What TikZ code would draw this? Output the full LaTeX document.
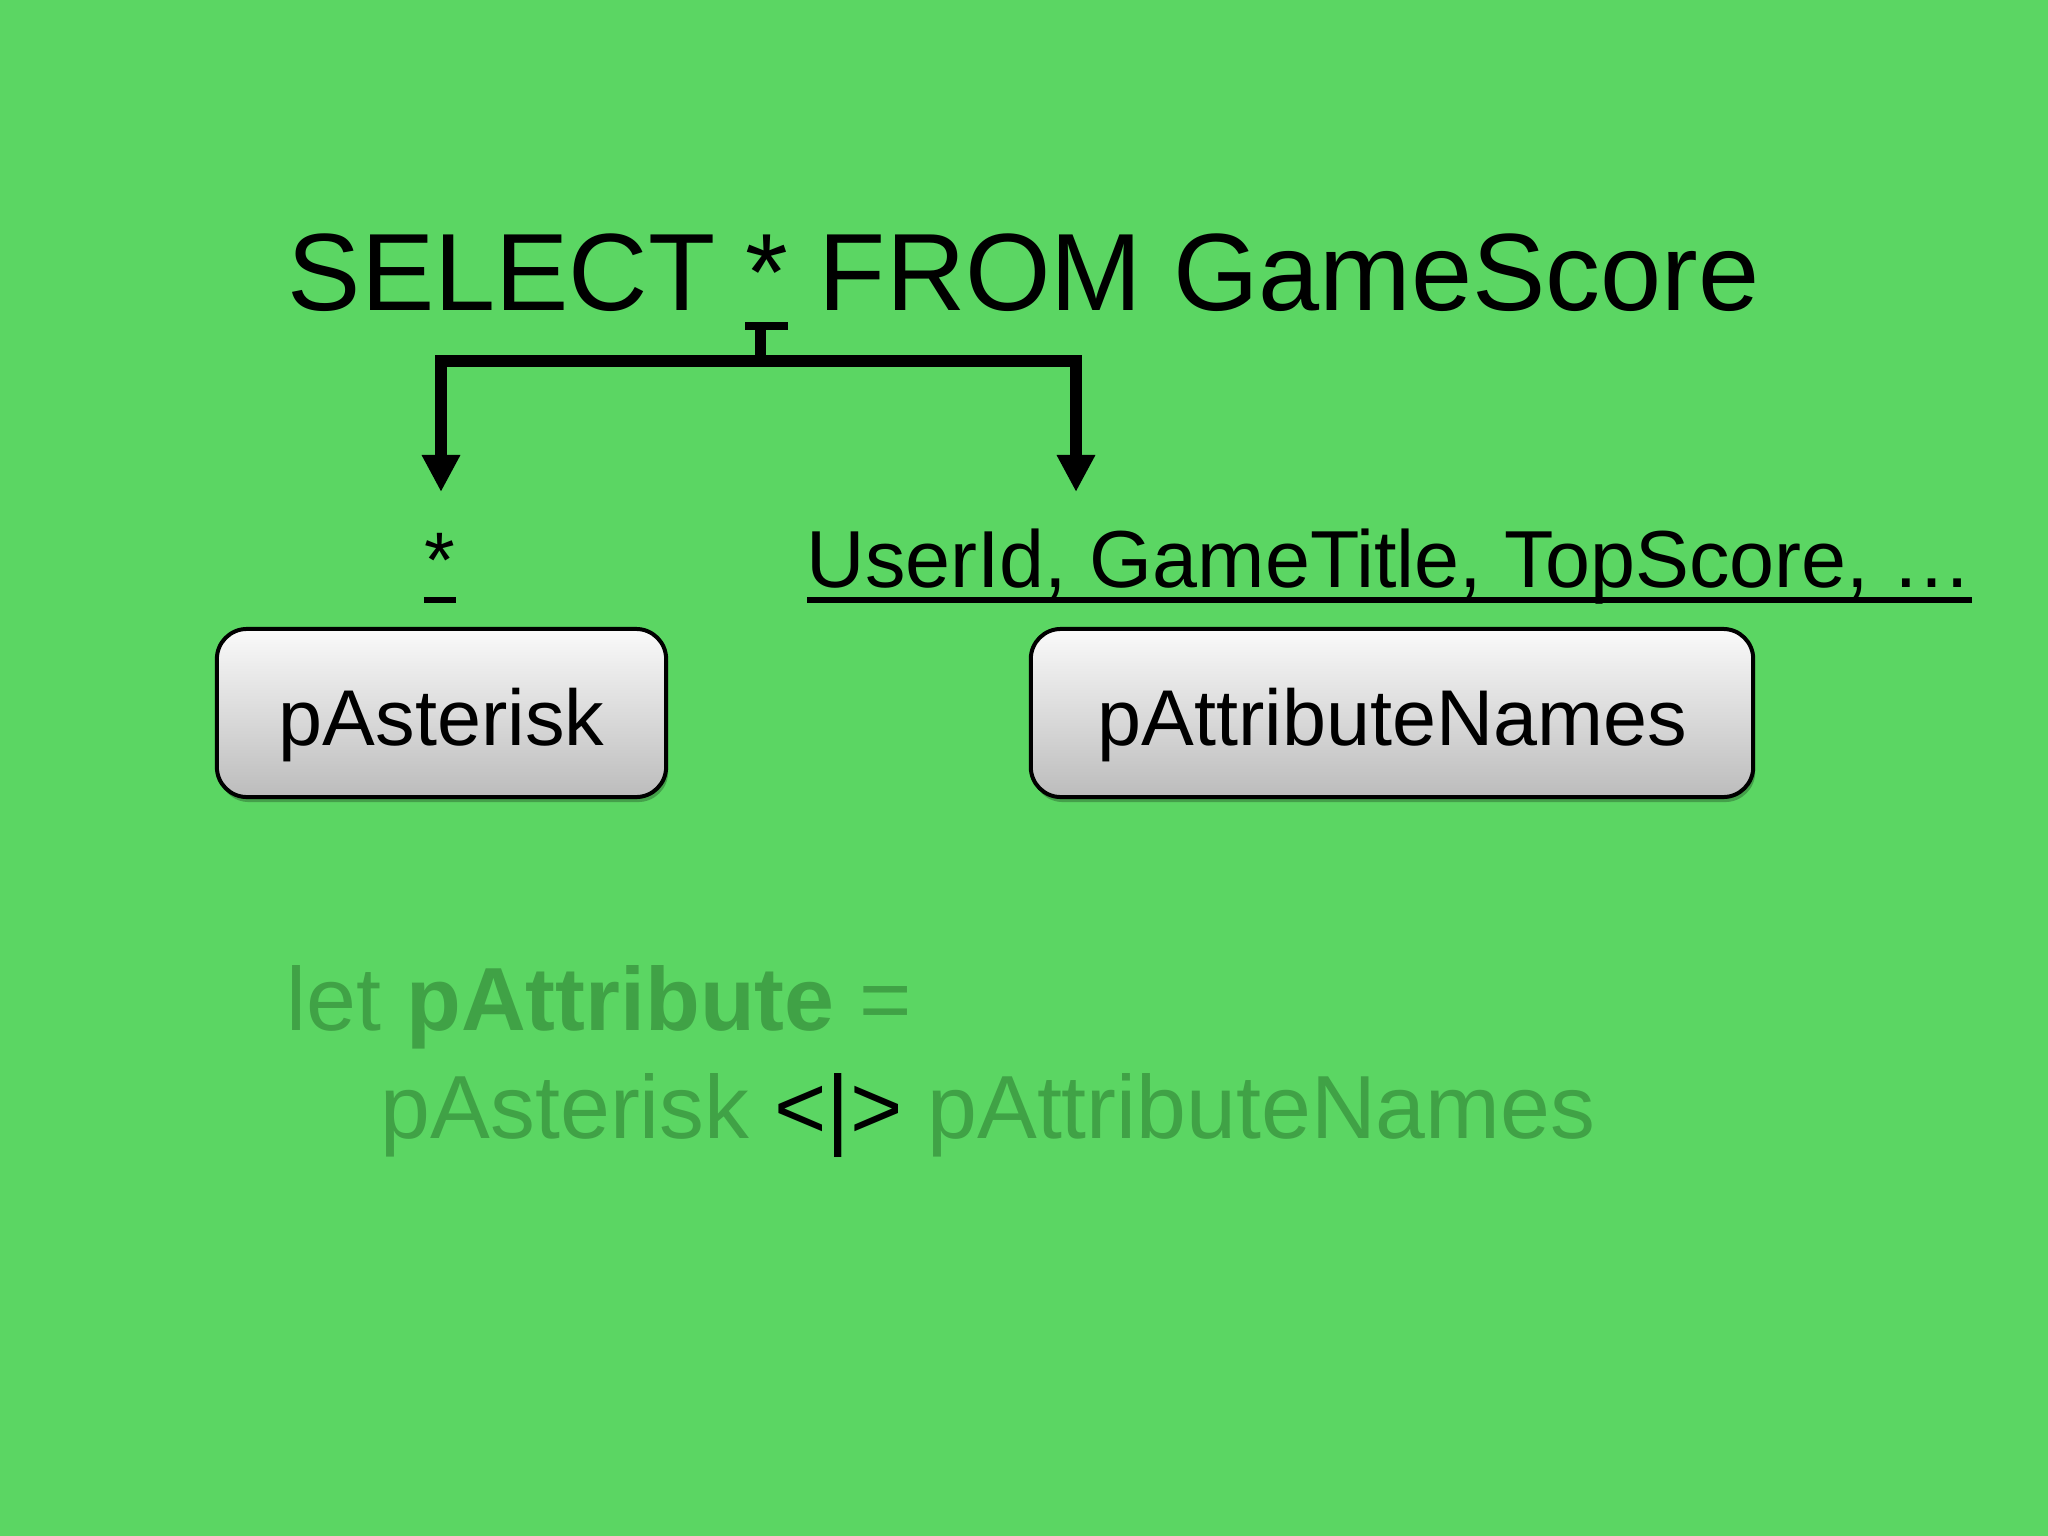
\documentclass[tikz,border=0pt]{standalone}
\usepackage{fontspec}
\setmainfont{Liberation Sans}
\usetikzlibrary{arrows.meta,shadows}
\definecolor{bggreen}{RGB}{91,214,99}
\definecolor{fadegreen}{RGB}{64,162,70}
\definecolor{boxtop}{RGB}{250,250,250}
\definecolor{boxbot}{RGB}{188,188,188}
\begin{document}
\begin{tikzpicture}[x=0.01cm,y=-0.01cm,
  sqltitle/.style={font=\fontsize{31.25pt}{36pt}\selectfont, inner sep=0pt, anchor=base west},
  lbl/.style={font=\fontsize{22.4pt}{27pt}\selectfont, inner sep=0pt},
  attrtxt/.style={font=\fontsize{23pt}{27pt}\selectfont, inner sep=0pt},
  codetxt/.style={font=\fontsize{25.5pt}{30pt}\selectfont, inner sep=0pt, anchor=base west, text=fadegreen},
  parser/.style={draw=black, line width=0.04cm, rounded corners=0.3cm,
    top color=boxtop, bottom color=boxbot, minimum height=1.68cm, inner sep=0pt,
    font=\fontsize{22.5pt}{27pt}\selectfont, text height=0.64cm, text depth=0pt,
    drop shadow={opacity=0.25, shadow xshift=0.02cm, shadow yshift=-0.05cm, fill=black}},
  conn/.style={line width=0.12cm, line join=miter},
  stemline/.style={line width=0.11cm},
  capline/.style={line width=0.08cm},
  uline/.style={line width=0.06cm},
  >={Triangle[width=0.36cm,length=0.37cm]}]
\path[fill=bggreen, use as bounding box] (0,0) rectangle (2048,1536);

\node[sqltitle] (sql) at (287,310) {SELECT * FROM GameScore};

\coordinate (capL) at (745,326);
\coordinate (capR) at (788,326);
\coordinate (stemtop) at (760,326);
\coordinate (fork) at (760,361);
\coordinate (tipL) at (441,492);
\coordinate (tipR) at (1076,492);

\draw[capline] (capL) -- (capR);
\draw[stemline] (stemtop) -- (fork);
\draw[conn,->] (fork) -| (tipL);
\draw[conn,->] (fork) -| (tipR);

\node[lbl, anchor=base] (star) at (440,587) {*};
\node[attrtxt, anchor=base west] (attrs) at (806,587) {UserId, GameTitle, TopScore, …};
\draw[uline] ([yshift=-0.13cm]star.base west) -- ([yshift=-0.13cm]star.base east);
\draw[uline] ([xshift=0.01cm,yshift=-0.13cm]attrs.base west) -- ([xshift=-0.01cm,yshift=-0.13cm]attrs.base east);

\node[parser, minimum width=4.49cm] (pA) at (441.5,713) {pAsterisk};
\node[parser, minimum width=7.22cm] (pN) at (1392,713) {pAttributeNames};

\node[codetxt] (letline) at (286,1030) {let \textbf{pAttribute} =};
\node[codetxt] (combline) at (380,1138) {pAsterisk \textcolor{black}{<|>} pAttributeNames};
\end{tikzpicture}
\end{document}
